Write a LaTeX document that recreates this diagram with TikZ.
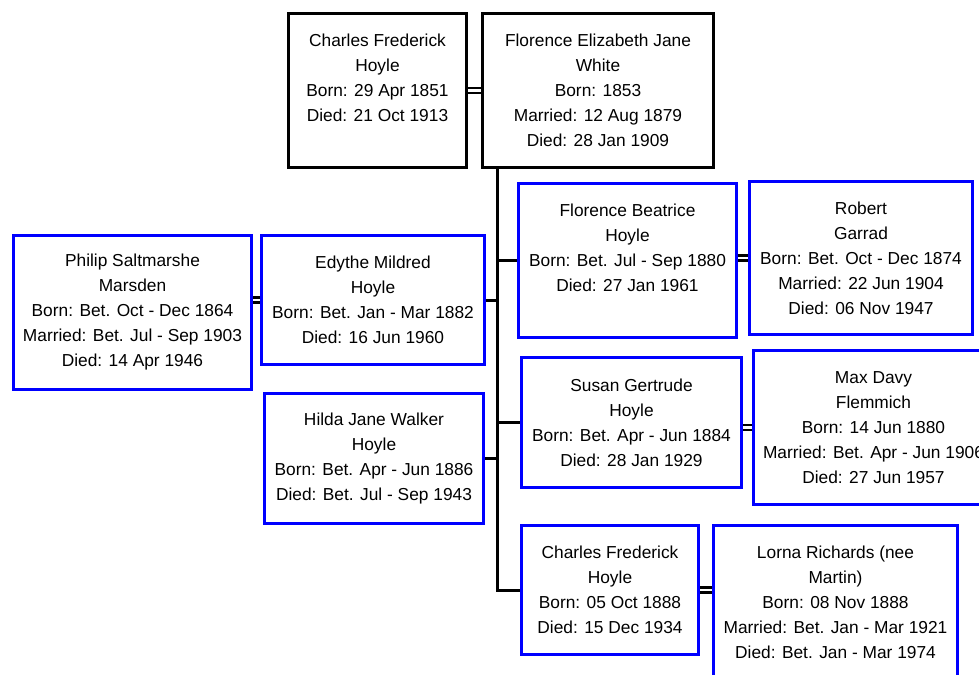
\documentclass[tikz,border=0pt]{standalone}
\usepackage{fontspec}
\setmainfont{Liberation Sans}
\tikzset{
	person/.style={draw=blue, line width=2.25pt, align=center, anchor=north west, inner sep=0pt},
	ancestor/.style={person, draw=black},
	boxsize/.style 2 args={minimum width=#1*0.75pt, minimum height=#2*0.75pt},
	line/.style={line width=2.25pt},
	married/.style={double, line width=1.9pt, double distance=1.9pt},
}

\begin{document}
\begin{tikzpicture}[x=0.75pt, y=-0.75pt, font=\fontsize{13}{18.75}\selectfont]
	\useasboundingbox (0,0) rectangle (979,675);
	\clip (0,0) rectangle (979,675);
	% parents
	\node[ancestor, boxsize={178}{154}] (chf) at (287,12) {Charles Frederick\\Hoyle\\Born: 29 Apr 1851\\Died: 21 Oct 1913\\\mbox{}};
	\node[ancestor, boxsize={231}{154}] (few) at (481,12) {Florence Elizabeth Jane\\White\\Born: 1853\\Married: 12 Aug 1879\\Died: 28 Jan 1909};
	% children and spouses
	\node[person, boxsize={238}{154}] (psm) at (12,234) {Philip Saltmarshe\\Marsden\\Born: Bet. Oct - Dec 1864\\Married: Bet. Jul - Sep 1903\\Died: 14 Apr 1946};
	\node[person, boxsize={223}{129}] (emh) at (260,234) {Edythe Mildred\\Hoyle\\Born: Bet. Jan - Mar 1882\\Died: 16 Jun 1960};
	\node[person, boxsize={219}{130}] (hjw) at (263,392) {Hilda Jane Walker\\Hoyle\\Born: Bet. Apr - Jun 1886\\Died: Bet. Jul - Sep 1943};
	\node[person, boxsize={218}{154}] (fbh) at (517,182) {Florence Beatrice\\Hoyle\\Born: Bet. Jul - Sep 1880\\Died: 27 Jan 1961\\\mbox{}};
	\node[person, boxsize={223}{153}] (rg) at (748,180) {Robert\\Garrad\\Born: Bet. Oct - Dec 1874\\Married: 22 Jun 1904\\Died: 06 Nov 1947};
	\node[person, boxsize={220}{130}] (sgh) at (520,356) {Susan Gertrude\\Hoyle\\Born: Bet. Apr - Jun 1884\\Died: 28 Jan 1929};
	\node[person, boxsize={240}{154}] (mdf) at (752,349) {Max Davy\\Flemmich\\Born: 14 Jun 1880\\Married: Bet. Apr - Jun 1906\\Died: 27 Jun 1957};
	\node[person, boxsize={177}{129}] (cfh) at (520,524) {Charles Frederick\\Hoyle\\Born: 05 Oct 1888\\Died: 15 Dec 1934};
	\node[person, boxsize={244}{154}] (lrm) at (712,524) {Lorna Richards (nee\\Martin)\\Born: 08 Nov 1888\\Married: Bet. Jan - Mar 1921\\Died: Bet. Jan - Mar 1974};
	% marriages
	\draw[married] (chf.east) -- (few.west |- chf.east);
	\draw[married] (psm.east |- emh.west) -- (emh.west);
	\draw[married] (fbh.east |- rg.west) -- (rg.west);
	\draw[married] (sgh.east |- mdf.west) -- (mdf.west);
	\draw[married] (cfh.east) -- (lrm.west |- cfh.east);
	% descent
	\draw[line] (few.south west) ++(16,0) coordinate (tt) -- (tt |- cfh.west) -- (cfh.west);
	\draw[line] (tt |- emh.east) -- (emh.east);
	\draw[line] (tt |- hjw.east) -- (hjw.east);
	\draw[line] (tt |- fbh.west) -- (fbh.west);
	\draw[line] (tt |- sgh.west) -- (sgh.west);
\end{tikzpicture}
\end{document}
